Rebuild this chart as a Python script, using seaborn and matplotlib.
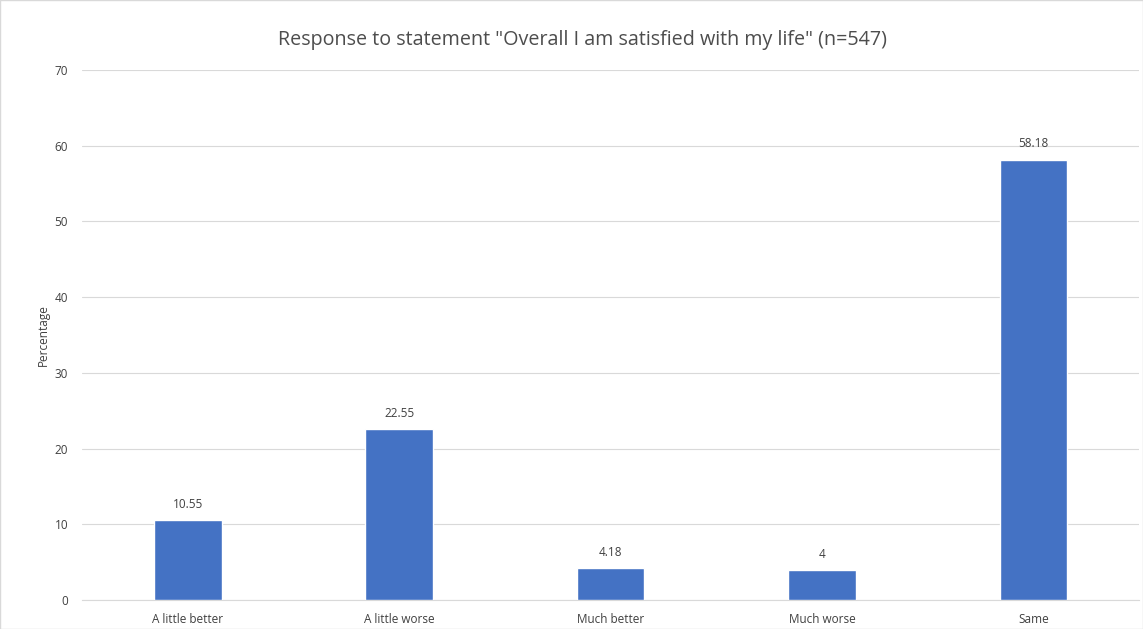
import matplotlib
matplotlib.use("Agg")
import matplotlib.pyplot as plt
import seaborn as sns
import pandas as pd

categories = ["A little better", "A little worse", "Much better", "Much worse", "Same"]
percentages = [10.55, 22.55, 4.18, 4, 58.18]
value_labels = ["10.55", "22.55", "4.18", "4", "58.18"]

df = pd.DataFrame({"category": categories, "pct": percentages})

sns.set_style("white")
plt.rcParams["font.family"] = ["Open Sans", "DejaVu Sans"]

fig = plt.figure(figsize=(11.43, 6.29), dpi=100)
ax = fig.add_axes([0.0717, 0.0461, 0.925, 0.8426])

sns.barplot(data=df, x="category", y="pct", color="#4472C4", width=0.32,
            saturation=1, ax=ax, zorder=3)

for p, lab in zip(ax.patches, value_labels):
    ax.text(p.get_x() + p.get_width() / 2, p.get_height() + 1.2, lab,
            ha="center", va="bottom", fontsize=8.5, color="#404040")

ax.set_ylim(0, 70)
ax.set_yticks(range(0, 71, 10))
ax.set_xlim(-0.5, 4.5)
ax.yaxis.grid(True, color="#D9D9D9", linewidth=0.8, zorder=0)
for s in ["top", "right", "left"]:
    ax.spines[s].set_visible(False)
ax.spines["bottom"].set_color("#D9D9D9")
ax.tick_params(axis="both", length=0, labelsize=8.5, labelcolor="#404040")
ax.tick_params(axis="y", pad=10)
ax.tick_params(axis="x", pad=9)
ax.set_xlabel("")
ax.set_ylabel("Percentage", fontsize=8.5, color="#404040", labelpad=3)
fig.text(0.51, 0.937,
         'Response to statement "Overall I am satisfied with my life" (n=547)',
         ha="center", va="center", fontsize=14.2, color="#4d4d4d")

fig.patches.append(plt.Rectangle((0, 0), 1, 1, transform=fig.transFigure,
                                 fill=False, edgecolor="#D9D9D9", linewidth=1))

fig.savefig("out.png", dpi=100)
